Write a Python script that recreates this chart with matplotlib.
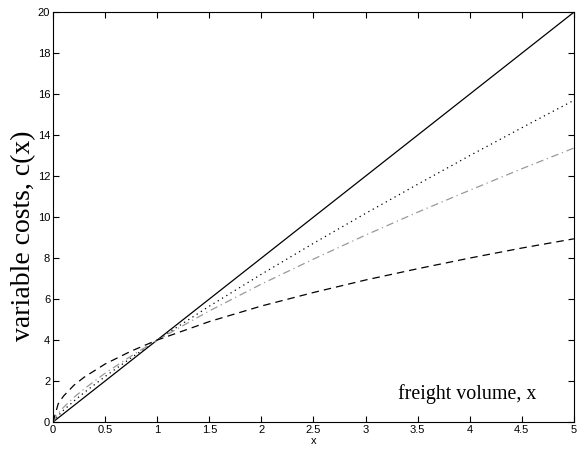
import numpy as np
import matplotlib
matplotlib.use('Agg')
import matplotlib.pyplot as plt

# freight volume (x) and variable cost curves
x = [0, 0.05, 0.1, 0.2, 0.3, 0.5, 0.75, 1, 1.5, 2, 2.5, 3, 3.5, 4, 4.5, 5]
c_linear = [0, 0.2, 0.4, 0.8, 1.2, 2.0, 3.0, 4.0, 6.0, 8.0, 10.0, 12.0, 14.0, 16.0, 18.0, 20.0]
c_dotted = [0, 0.31, 0.57, 1.02, 1.44, 2.22, 3.13, 4.0, 5.65, 7.21, 8.72, 10.18, 11.6, 13.0, 14.36, 15.7]
c_dashdot = [0, 0.42, 0.71, 1.2, 1.62, 2.38, 3.22, 4.0, 5.42, 6.73, 7.95, 9.12, 10.24, 11.31, 12.36, 13.37]
c_dashed = [0, 0.89, 1.26, 1.79, 2.19, 2.83, 3.46, 4.0, 4.9, 5.66, 6.32, 6.93, 7.48, 8.0, 8.49, 8.94]

xticks = [0, 0.5, 1, 1.5, 2, 2.5, 3, 3.5, 4, 4.5, 5]
xtick_labels = ['0', '0.5', '1', '1.5', '2', '2.5', '3', '3.5', '4', '4.5', '5']
yticks = np.arange(0, 21, 2)

fig = plt.figure(figsize=(5.78, 4.51), dpi=100)
ax = fig.add_axes([0.0917, 0.0643, 0.9013, 0.9087])

ax.plot(x, c_linear, color='black', lw=0.9, ls='-')
ax.plot(x, c_dotted, color='black', lw=0.9, ls=(0, (1, 3)))
ax.plot(x, c_dashdot, color='#999999', lw=0.9, ls=(0, (6, 3, 1, 3)))
ax.plot(x, c_dashed, color='black', lw=0.9, ls=(0, (6, 4)))

ax.set_xlim(0, 5)
ax.set_ylim(0, 20)
ax.set_xticks(xticks)
ax.set_xticklabels(xtick_labels)
ax.set_yticks(yticks)
ax.tick_params(direction='in', top=True, right=True, length=4, width=0.8,
               labelsize=8, pad=2)
for lab in ax.get_xticklabels() + ax.get_yticklabels():
    lab.set_family('Liberation Sans')
for s in ax.spines.values():
    s.set_linewidth(0.8)

ax.set_xlabel('x', fontsize=8, family='Liberation Sans', labelpad=1)
fig.text(0.040, 0.477, 'variable costs, c(x)', rotation=90, ha='center', va='center',
         fontsize=20, family='Liberation Serif')
ax.text(3.31, 1.1, 'freight volume, x', fontsize=14.4, family='Liberation Serif',
        ha='left', va='baseline')

fig.savefig('out.png', dpi=100)
